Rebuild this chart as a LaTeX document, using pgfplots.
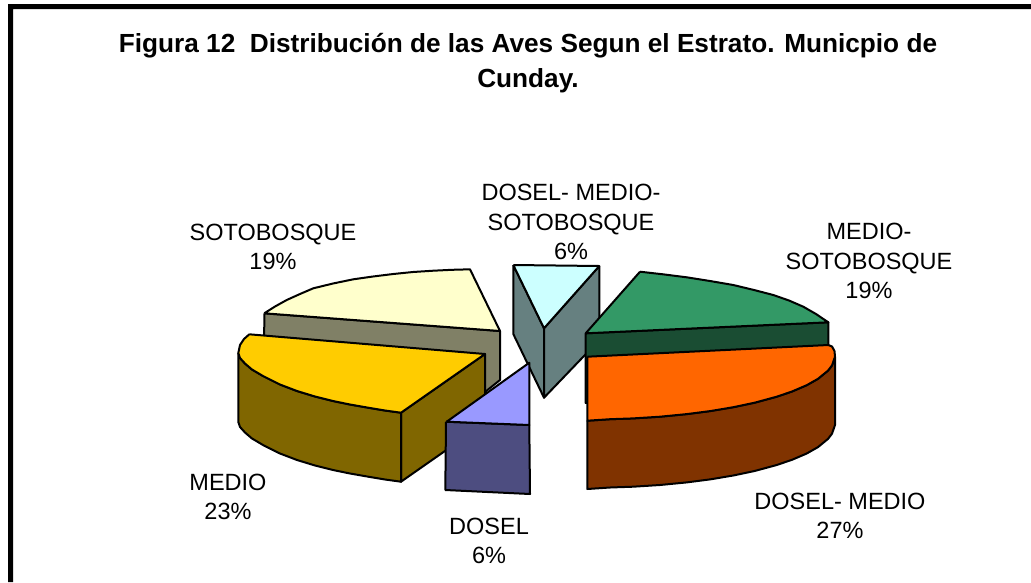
\documentclass[border=0pt]{standalone}
\usepackage{fontspec}
\setmainfont{Liberation Sans}
\usepackage{pgfplots}
\pgfplotsset{compat=1.18}
\definecolor{sotoT}{HTML}{FFFFCC}\definecolor{sotoS}{HTML}{808066}
\definecolor{medT}{HTML}{FFCC00}\definecolor{medS}{HTML}{806600}
\definecolor{dosT}{HTML}{9999FF}\definecolor{dosS}{HTML}{4D4D80}
\definecolor{cyaT}{HTML}{CCFFFF}\definecolor{cyaS}{HTML}{668080}
\definecolor{greT}{HTML}{339966}\definecolor{greS}{HTML}{1A4D33}
\definecolor{oraT}{HTML}{FF6600}\definecolor{oraS}{HTML}{803300}
\pgfplotsset{pie/.style={draw=black,line width=2pt,line join=round,mark=none,solid}}
\begin{document}
\begin{tikzpicture}
\begin{axis}[width=1031pt,height=582pt,scale only axis,xmin=0,xmax=1031,ymin=0,ymax=582,y dir=reverse,hide axis,clip=true,
  every axis plot/.append style={forget plot}]
% page and frame
\addplot[fill=white,draw=none,line width=0pt,mark=none] coordinates {(0,0) (1031,0) (1031,582) (0,582) (0,0)};
\addplot[fill=black,draw=none,line width=0pt,mark=none] coordinates {(8,4) (1031,4) (1031,9) (13,9) (13,582) (8,582) (8,4)};
% SOTOBOSQUE
\addplot[pie,fill=sotoS] coordinates {(264.3,313.3) (500,331) (500,380) (485,392) (264,392) (264.3,313.3)};
\addplot[pie,fill=sotoT] coordinates {(264.3,313.3) (275,306.5) (286.7,300) (300,294) (313.3,288.3) (333,283.5) (353.3,279.3) (373,276.5) (393.3,274) (413,272) (433.3,270.7) (452,269.8) (470,269.3) (500,331) (264.3,313.3)};
% DOSEL-MEDIO-SOTOBOSQUE
\addplot[pie,fill=cyaS] coordinates {(513.3,265) (544,328.3) (544,397.7) (513.3,334) (513.3,265)};
\addplot[pie,fill=cyaS] coordinates {(599.3,266) (599.3,340) (544,397.7) (544,328.3) (599.3,266)};
\addplot[pie,fill=cyaT] coordinates {(513.3,265) (599.3,266) (544,328.3) (513.3,265)};
% MEDIO-SOTOBOSQUE
\addplot[pie,fill=greS] coordinates {(585.7,333.3) (828.3,322.3) (828.3,350) (585.7,403) (585.7,333.3)};
\addplot[pie,fill=greT] coordinates {(640,271.7) (663,274.3) (686.7,277.3) (710,281) (733.3,285) (754,290) (773.3,295) (789,300.5) (803.3,306.7) (816,314) (828.3,322.3) (585.7,333.3) (640,271.7)};
% MEDIO
\addplot[pie,fill=medS] coordinates {(401,412.7) (485,354) (485,423) (401,481.7) (401,412.7)};
\addplot[pie,fill=medS] coordinates {(238.3,353) (240,358) (245,363.5) (252,369.5) (263,376) (280,384.5) (297,391) (315,396.5) (333,401) (350,404.5) (370,408) (385,410.5) (401,412.7) (401,481.7) (385,479.5) (370,477) (350,473.5) (333,470) (315,465.5) (297,460) (280,453.5) (263,445) (252,438.5) (245,432.5) (240,427) (238.3,422) (238.3,353)};
\addplot[pie,fill=medT] coordinates {(249.3,334.3) (485,354) (401,412.7) (385,410.5) (370,408) (350,404.5) (333,401) (315,396.5) (297,391) (280,384.5) (263,376) (252,369.5) (245,363.5) (240,358) (238.3,353) (240,345) (244,339) (249.3,334.3)};
% DOSEL
\addplot[pie,fill=dosS] coordinates {(446,421.7) (529.3,425) (530,494) (445.3,490) (446,421.7)};
\addplot[pie,fill=dosT] coordinates {(446.7,421.7) (529.3,362.7) (529.3,425) (446.7,421.7)};
% DOSEL-MEDIO
\addplot[pie,fill=oraS] coordinates {(587.3,420.7) (610,419.2) (633,418.4) (660,416.7) (686.7,414.1) (710,411.1) (733.3,407.2) (755,402.6) (776.7,396.7) (792,391.5) (806.7,385.2) (818,378.8) (828,370.6) (832,365.4) (835,356.7) (835,425) (832,433.7) (828,438.9) (818,447.1) (806.7,453.5) (792,459.8) (776.7,465) (755,470.9) (733.3,475.5) (710,479.4) (686.7,482.4) (660,485) (633,486.7) (610,487.5) (587.3,489) (587.3,420.7)};
\addplot[pie,fill=oraT] coordinates {(587.3,356.7) (828.3,345) (832,346.5) (834.5,351) (835,356.7) (832,365.4) (828,370.6) (818,378.8) (806.7,385.2) (792,391.5) (776.7,396.7) (755,402.6) (733.3,407.2) (710,411.1) (686.7,414.1) (660,416.7) (633,418.4) (610,419.2) (587.3,420.7) (587.3,356.7)};
% text
\node[font=\bfseries\fontsize{26.2}{35}\selectfont,align=center,text=black,inner sep=0pt] at (axis cs:528,63) {Figura 12\ \ Distribución de las Aves Segun el Estrato. Municpio de\\Cunday.};
\tikzset{lab/.style={font=\fontsize{23.5}{29.5}\selectfont,align=center,text=black,inner sep=0pt}}
\node[lab] at (axis cs:273,247) {SOTOBOSQUE\\19\%};
\node[lab] at (axis cs:571,222) {DOSEL- MEDIO-\\SOTOBOSQUE\\6\%};
\node[lab] at (axis cs:869,261) {MEDIO-\\SOTOBOSQUE\\19\%};
\node[lab] at (axis cs:840,516) {DOSEL- MEDIO\\27\%};
\node[lab] at (axis cs:228,497) {MEDIO\\23\%};
\node[lab] at (axis cs:489,541) {DOSEL\\6\%};
\end{axis}
\end{tikzpicture}
\end{document}
